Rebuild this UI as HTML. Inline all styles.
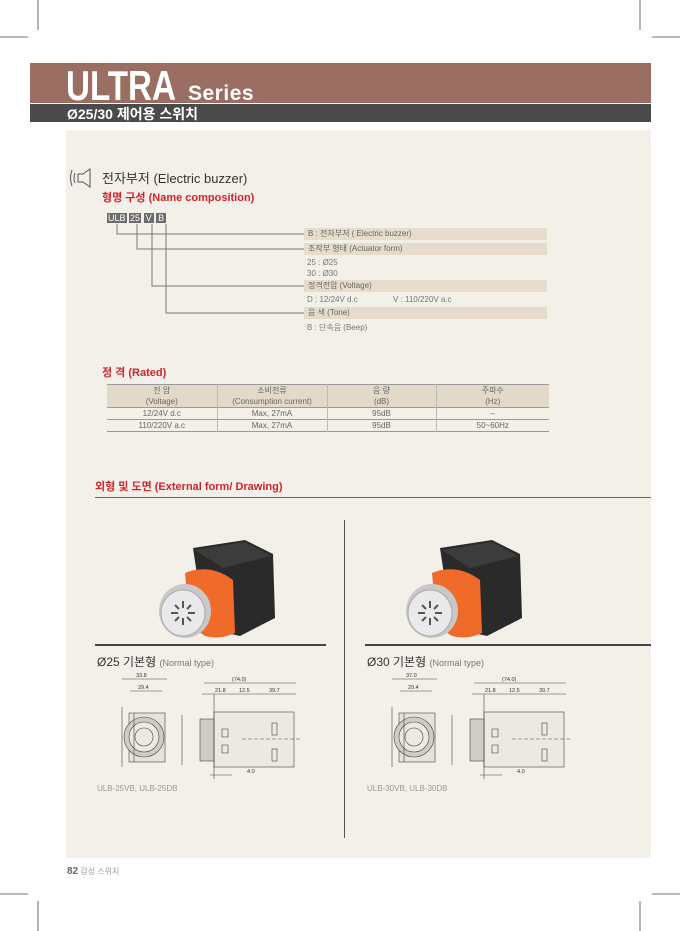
<!DOCTYPE html>
<html><head><meta charset="utf-8"><style>
*{margin:0;padding:0;box-sizing:border-box}
body{width:680px;height:931px;position:relative;background:#fff;font-family:"Liberation Sans","Noto Sans CJK KR",sans-serif;overflow:hidden;color:#555}
.a{position:absolute;white-space:nowrap}
.bar{position:absolute;left:304px;width:243px;height:12px;background:#e5dccb;font-size:8px;line-height:12px;padding-left:4px;color:#666}
.t{font-size:8px;color:#777}
table{border-collapse:collapse;font-size:8px;color:#666;text-align:center}
td{border-left:1px solid #bbb;height:11px;line-height:11px}
td:first-child{border-left:none}
</style></head><body>
<svg class="a" style="left:0;top:0" width="680" height="931">
<g stroke="#444" stroke-width="0.8">
<line x1="38" y1="0" x2="38" y2="30"/><line x1="640" y1="0" x2="640" y2="30"/>
<line x1="0" y1="37" x2="28" y2="37"/><line x1="652" y1="37" x2="680" y2="37"/>
<line x1="38" y1="901" x2="38" y2="931"/><line x1="640" y1="901" x2="640" y2="931"/>
<line x1="0" y1="894" x2="28" y2="894"/><line x1="652" y1="894" x2="680" y2="894"/>
</g>
</svg>
<div class="a" style="left:30px;top:63px;width:621px;height:40px;background:#9a6e62"></div>
<div class="a" style="left:30px;top:104px;width:621px;height:18px;background:#4a4a4a"></div>
<div class="a" style="left:66px;top:130px;width:585px;height:728px;background:#f3f0ea"></div>
<div class="a" style="left:66px;top:65px;font-size:42px;font-weight:bold;color:#fff;line-height:42px;transform:scaleX(0.79);transform-origin:0 0">ULTRA</div>
<div class="a" style="left:188px;top:83px;font-size:21px;font-weight:bold;color:#fff;line-height:22px;letter-spacing:0.5px">Series</div>
<div class="a" style="left:67px;top:106px;font-size:14px;font-weight:bold;color:#fff;line-height:16px">Ø25/30 제어용 스위치</div>

<svg class="a" style="left:68px;top:166px" width="30" height="24"><g fill="none" stroke="#555" stroke-width="1"><path d="M4 4 Q1 12 4 20"/><path d="M7 7 Q5 12 7 17"/><path d="M10 8 h5 l7 -5 v18 l-7 -5 h-5z"/></g></svg>
<div class="a" style="left:102px;top:168px;font-size:13px;color:#333">전자부저 (Electric buzzer)</div>
<div class="a" style="left:102px;top:189px;font-size:11px;font-weight:bold;color:#d2232a">형명 구성 (Name composition)</div>

<div class="a" style="left:107px;top:213px;font-size:9px;color:#fff;line-height:11px">
<span style="background:#6b6b6b;padding:0 1px">ULB</span> <span style="background:#6b6b6b;padding:0 1px">25</span> <span style="background:#6b6b6b;padding:0 2px">V</span> <span style="background:#6b6b6b;padding:0 2px">B</span></div>
<svg class="a" style="left:0;top:0" width="680" height="340"><g fill="none" stroke="#777" stroke-width="1">
<path d="M117 224 V234 H304"/><path d="M137 224 V249 H304"/><path d="M152 224 V286 H304"/><path d="M166 224 V313 H304"/></g></svg>
<div class="bar" style="top:228px">B : 전자부저 ( Electric buzzer)</div>
<div class="bar" style="top:243px">조작부 형태 (Actuator form)</div>
<div class="a t" style="left:307px;top:258px">25 : Ø25</div>
<div class="a t" style="left:307px;top:269px">30 : Ø30</div>
<div class="bar" style="top:280px">정격전압 (Voltage)</div>
<div class="a t" style="left:307px;top:295px">D : 12/24V d.c</div>
<div class="a t" style="left:393px;top:295px">V : 110/220V a.c</div>
<div class="bar" style="top:307px">음 색 (Tone)</div>
<div class="a t" style="left:307px;top:322px">B : 단속음 (Beep)</div>

<div class="a" style="left:102px;top:364px;font-size:11px;font-weight:bold;color:#d2232a">정 격 (Rated)</div>
<table class="a" style="left:107px;top:384px;width:442px;border-top:1px solid #999;border-bottom:1px solid #999">
<tr style="background:#e2d9c8"><td style="width:110px">전 압</td><td style="width:110px">소비전류</td><td style="width:109px">음 량</td><td>주파수</td></tr>
<tr style="background:#e2d9c8;border-bottom:1px solid #999"><td>(Voltage)</td><td>(Consumption current)</td><td>(dB)</td><td>(Hz)</td></tr>
<tr style="border-bottom:1px solid #999"><td>12/24V d.c</td><td>Max, 27mA</td><td>95dB</td><td>–</td></tr>
<tr><td>110/220V a.c</td><td>Max, 27mA</td><td>95dB</td><td>50~60Hz</td></tr>
</table>

<div class="a" style="left:95px;top:478px;font-size:11px;font-weight:bold;color:#d2232a">외형 및 도면 (External form/ Drawing)</div>
<div class="a" style="left:95px;top:497px;width:556px;height:1px;background:#666"></div>
<div class="a" style="left:344px;top:520px;width:1px;height:318px;background:#555"></div>

<svg class="a" style="left:0;top:0" width="680" height="931">
<defs>
<g id="prod">
<path d="M48 20 L100 12 L128 26 L130 90 L95 108 L60 100 Z" fill="#2a2a2a"/>
<path d="M50 22 L100 14 L126 28 L78 40 Z" fill="#3c3c3c"/>
<path d="M40 45 Q65 35 88 52 L90 105 Q75 112 60 108 L45 98 Z" fill="#f06a2a"/>
<ellipse cx="40" cy="83" rx="26" ry="27" fill="#c8c8c8"/>
<ellipse cx="38" cy="85" rx="22" ry="23" fill="#e9e9ec" stroke="#aaa"/>
<g stroke="#555" stroke-width="2"><line x1="38" y1="73" x2="38" y2="80"/><line x1="38" y1="90" x2="38" y2="97"/><line x1="26" y1="85" x2="33" y2="85"/><line x1="43" y1="85" x2="50" y2="85"/><line x1="30" y1="77" x2="34" y2="81"/><line x1="42" y1="89" x2="46" y2="93"/><line x1="46" y1="77" x2="42" y2="81"/><line x1="30" y1="93" x2="34" y2="89"/></g>
</g>
<g id="dw" fill="none" stroke="#444" stroke-width="0.6">
<rect x="47" y="44" width="36" height="49" fill="#e6e3dc"/>
<circle cx="62" cy="68" r="20" fill="#d0ccc4"/><circle cx="62" cy="68" r="15" fill="#ece9e2"/><circle cx="62" cy="68" r="9"/>
<line x1="40" y1="38" x2="40" y2="98"/><line x1="52" y1="44" x2="52" y2="93"/>
<line x1="40" y1="10" x2="85" y2="10"/><line x1="48" y1="22" x2="80" y2="22"/>
<rect x="132" y="43" width="80" height="55" fill="#ece9e2"/><rect x="118" y="50" width="14" height="42" fill="#d0ccc4"/>
<line x1="122" y1="14" x2="214" y2="14"/><line x1="120" y1="25" x2="214" y2="25"/>
<line x1="100" y1="46" x2="100" y2="96"/><line x1="132" y1="25" x2="132" y2="110"/>
<line x1="160" y1="70" x2="218" y2="70" stroke-dasharray="4 2"/>
<rect x="190" y="54" width="5" height="12"/><rect x="190" y="80" width="5" height="12"/>
<rect x="140" y="60" width="6" height="8"/><rect x="140" y="76" width="6" height="8"/>
<line x1="128" y1="106" x2="150" y2="106"/>
</g>
</defs>
<use href="#prod" x="145" y="528"/>
<use href="#prod" x="392" y="528"/>
<g transform="translate(82,669)"><use href="#dw"/><g font-size="5.5" fill="#333" font-family="Liberation Sans"><text x="54" y="8">33.8</text><text x="56" y="20">29.4</text><text x="150" y="12">(74.0)</text><text x="133" y="23">21.8</text><text x="157" y="23">12.5</text><text x="187" y="23">39.7</text><text x="165" y="104">4.0</text></g></g>
<g transform="translate(352,669)"><use href="#dw"/><g font-size="5.5" fill="#333" font-family="Liberation Sans"><text x="54" y="8">37.0</text><text x="56" y="20">29.4</text><text x="150" y="12">(74.0)</text><text x="133" y="23">21.8</text><text x="157" y="23">12.5</text><text x="187" y="23">39.7</text><text x="165" y="104">4.0</text></g></g>
<rect x="95" y="644" width="231" height="2" fill="#444"/>
<rect x="365" y="644" width="286" height="2" fill="#444"/>
</svg>
<div class="a" style="left:97px;top:653px;font-size:12px;color:#333">Ø25 기본형 <span style="font-size:9px;color:#777">(Normal type)</span></div>
<div class="a" style="left:367px;top:653px;font-size:12px;color:#333">Ø30 기본형 <span style="font-size:9px;color:#777">(Normal type)</span></div>
<div class="a" style="left:97px;top:784px;font-size:8px;color:#999">ULB-25VB, ULB-25DB</div>
<div class="a" style="left:367px;top:784px;font-size:8px;color:#999">ULB-30VB, ULB-30DB</div>
<div class="a" style="left:67px;top:866px;font-size:8px;color:#999"><b style="color:#666;font-size:10px">82</b> 감성 스위치</div>
</body></html>
